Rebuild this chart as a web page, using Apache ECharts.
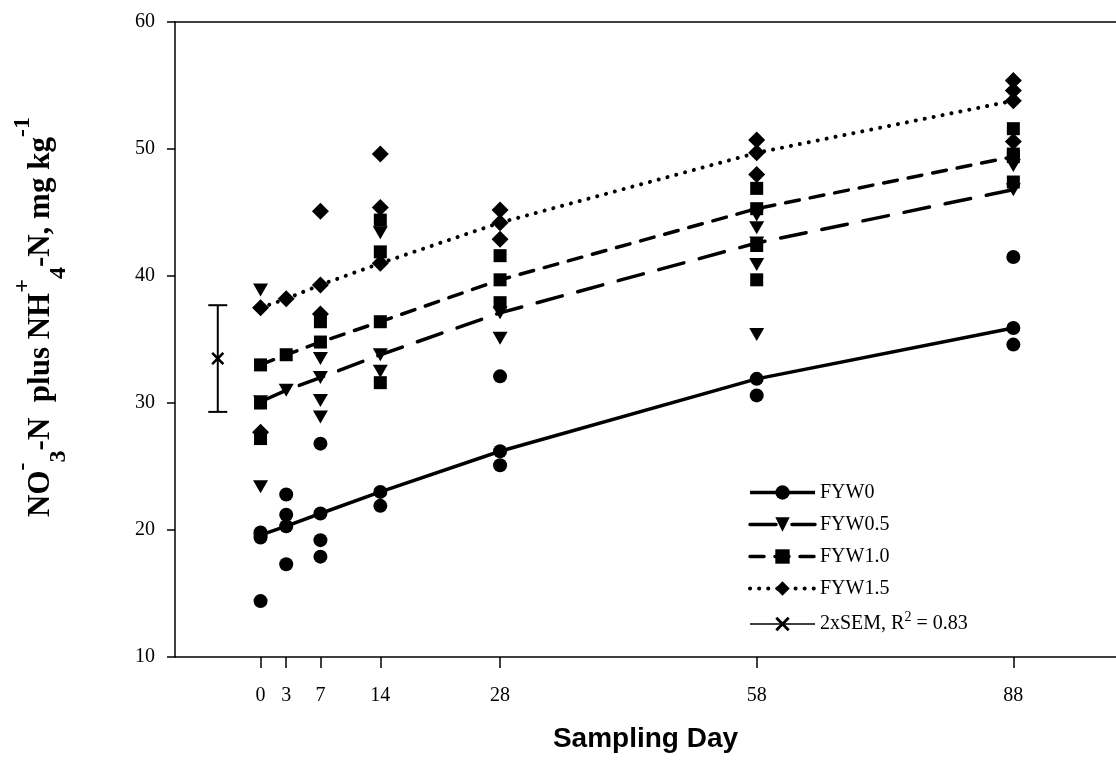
<!DOCTYPE html>
<html><head><meta charset="utf-8">
<script src="https://cdn.jsdelivr.net/npm/echarts@6/dist/echarts.min.js"></script>
<style>html,body{margin:0;padding:0;background:#fff}#c{width:1116px;height:767px}</style>
</head><body><div id="c"></div>
<script>
// ---- data ----
const days = [0, 3, 7, 14, 28, 58, 88];
const yTicks = [10, 20, 30, 40, 50, 60];
const meanFYW0  = [19.6, 20.3, 21.3, 23.0, 26.2, 31.9, 35.9];
const meanFYW05 = [30.1, 31.0, 32.0, 33.8, 37.1, 42.6, 46.8];
const meanFYW10 = [33.0, 33.8, 34.8, 36.4, 39.7, 45.3, 49.4];
const meanFYW15 = [37.5, 38.2, 39.3, 41.0, 44.2, 49.7, 53.8];
// replicate observations [day, value]
const obsFYW0  = [[0,19.8],[0,19.4],[0,14.4],[3,22.8],[3,21.2],[3,17.3],[7,26.8],[7,19.2],[7,17.9],[14,21.9],[28,32.1],[28,25.1],[58,30.6],[88,41.5],[88,34.6]];
const obsFYW05 = [[0,38.9],[0,23.4],[7,33.5],[7,30.2],[7,28.9],[14,43.4],[14,32.5],[28,35.1],[58,44.8],[58,43.8],[58,40.9],[58,35.4],[88,48.7]];
const obsFYW10 = [[0,30.0],[0,27.2],[7,36.4],[14,44.4],[14,41.9],[14,31.6],[28,41.6],[28,37.9],[58,46.9],[58,42.4],[58,39.7],[88,51.6],[88,49.6],[88,47.4]];
const obsFYW15 = [[0,27.7],[7,45.1],[7,37.0],[14,49.6],[14,45.4],[28,45.2],[28,42.9],[58,50.7],[58,48.0],[88,55.4],[88,54.6],[88,50.6]];
const semDay = [-5];
const semMean = [33.5];
const semHalf = [4.2];
const seriesNames = ['FYW0', 'FYW0.5', 'FYW1.0', 'FYW1.5', '2xSEM, R2 = 0.83'];
const yTitle = 'NO{sup|-}{sub|3}-N  plus NH{sup|+}{sub|4}-N, mg kg{sup|-1}';
const xTitle = 'Sampling Day';

// ---- chart ----
const serif = 'Liberation Serif';
const pair = (xs, ys) => xs.map((x, i) => [x, ys[i]]);
const triDown = 'path://M0,0 L10,0 L5,9 Z';
const cross = 'path://M0,1.4 L1.4,0 L5,3.6 L8.6,0 L10,1.4 L6.4,5 L10,8.6 L8.6,10 L5,6.4 L1.4,10 L0,8.6 L3.6,5 Z';
const styles = [
  {sym: 'circle', size: 14, ls: {type: 'solid', width: 3.5}},
  {sym: triDown, size: [15, 13], ls: {type: [26, 16], width: 3.5, cap: 'round'}},
  {sym: 'rect', size: 13, ls: {type: [14, 11], width: 3.5, cap: 'round'}},
  {sym: 'diamond', size: 17, ls: {type: [0.1, 9], width: 4, cap: 'round'}}
];
const means = [meanFYW0, meanFYW05, meanFYW10, meanFYW15];
const obs = [obsFYW0, obsFYW05, obsFYW10, obsFYW15];
const series = [];
for (let i = 0; i < 4; i++) {
  series.push({
    name: seriesNames[i] + ' obs', type: 'scatter', data: obs[i],
    symbol: styles[i].sym, symbolSize: styles[i].size,
    itemStyle: {color: '#000', opacity: 1}, z: 2 + i * 2, silent: true
  });
  series.push({
    name: seriesNames[i], type: 'line', data: pair(days, means[i]),
    symbol: styles[i].sym, symbolSize: styles[i].size, showSymbol: true,
    itemStyle: {color: '#000', opacity: 1}, lineStyle: Object.assign({color: '#000'}, styles[i].ls),
    z: 3 + i * 2, silent: true
  });
}
series.push({
  name: seriesNames[4], type: 'line', data: pair(semDay, semMean),
  symbol: cross, symbolSize: 13, itemStyle: {color: '#000'},
  lineStyle: {color: '#000', width: 1.3}, z: 12
});
series.push({
  name: 'sem bar', type: 'custom', z: 11,
  data: semDay.map((d, i) => [d, semMean[i], semHalf[i]]),
  renderItem: function (params, api) {
    const x = api.value(0), m = api.value(1), h = api.value(2);
    const top = api.coord([x, m + h]);
    const bot = api.coord([x, m - h]);
    const st = {stroke: '#000', lineWidth: 2};
    return {type: 'group', children: [
      {type: 'line', shape: {x1: top[0], y1: top[1], x2: bot[0], y2: bot[1]}, style: st},
      {type: 'line', shape: {x1: top[0] - 9.5, y1: top[1], x2: top[0] + 9.5, y2: top[1]}, style: st},
      {type: 'line', shape: {x1: bot[0] - 9.5, y1: bot[1], x2: bot[0] + 9.5, y2: bot[1]}, style: st}
    ]};
  }
});

const legendData = seriesNames.map((n, i) => i < 4
  ? {name: n, lineStyle: {width: styles[i].ls.width}}
  : {name: n, lineStyle: {width: 1.3}});

const option = {
  animation: false,
  backgroundColor: '#fff',
  grid: {left: 175, top: 22, bottom: 110, right: -11.5, containLabel: false},
  legend: {
    data: legendData, orient: 'vertical', left: 743, top: 477,
    itemWidth: 65, itemHeight: 18, itemGap: 11,
    textStyle: {fontFamily: serif, fontSize: 20, color: '#000', lineHeight: 21,
      rich: {sup: {fontFamily: serif, fontSize: 14, verticalAlign: 'top', lineHeight: 28}}},
    formatter: function (name) {
      return name === seriesNames[4] ? '2xSEM, R{sup|2} = 0.83' : name;
    },
    selectedMode: false
  },
  graphic: [{
    type: 'text', x: 41, y: 317, rotation: Math.PI / 2, silent: true,
    style: {
      text: yTitle, fill: '#000', align: 'center', verticalAlign: 'middle',
      fontFamily: serif, fontWeight: 'bold', fontSize: 31, lineHeight: 60,
      rich: {
        sup: {fontFamily: serif, fontWeight: 'bold', fontSize: 24, fill: '#000', verticalAlign: 'top', lineHeight: 20},
        sub: {fontFamily: serif, fontWeight: 'bold', fontSize: 24, fill: '#000', verticalAlign: 'bottom', lineHeight: 40}
      }
    }
  }],
  xAxis: [{
    type: 'value', min: -10, max: 100, position: 'bottom',
    axisLine: {show: true, onZero: false, lineStyle: {color: '#000', width: 1.5}},
    axisTick: {show: true, length: 11, customValues: days, lineStyle: {color: '#000', width: 1.5}},
    axisLabel: {customValues: days, margin: 29, fontFamily: serif, fontSize: 20, color: '#000'},
    splitLine: {show: false},
    name: xTitle, nameLocation: 'middle', nameGap: 68,
    nameTextStyle: {fontFamily: 'Liberation Sans', fontWeight: 'bold', fontSize: 28, color: '#000'}
  }, {
    type: 'value', min: -10, max: 100, position: 'top',
    axisLine: {show: true, onZero: false, lineStyle: {color: '#000', width: 1.5}},
    axisTick: {show: false}, axisLabel: {show: false}, splitLine: {show: false}
  }],
  yAxis: {
    type: 'value', min: yTicks[0], max: yTicks[yTicks.length - 1], interval: 10,
    axisLine: {show: true, onZero: false, lineStyle: {color: '#000', width: 1.5}},
    axisTick: {show: true, length: 8, lineStyle: {color: '#000', width: 1.5}},
    axisLabel: {margin: 20, fontFamily: serif, fontSize: 20, color: '#000'},
    splitLine: {show: false}
  },
  series: series
};
const chart = echarts.init(document.getElementById('c'), null, {renderer: 'canvas'});
chart.setOption(option);
</script></body></html>
